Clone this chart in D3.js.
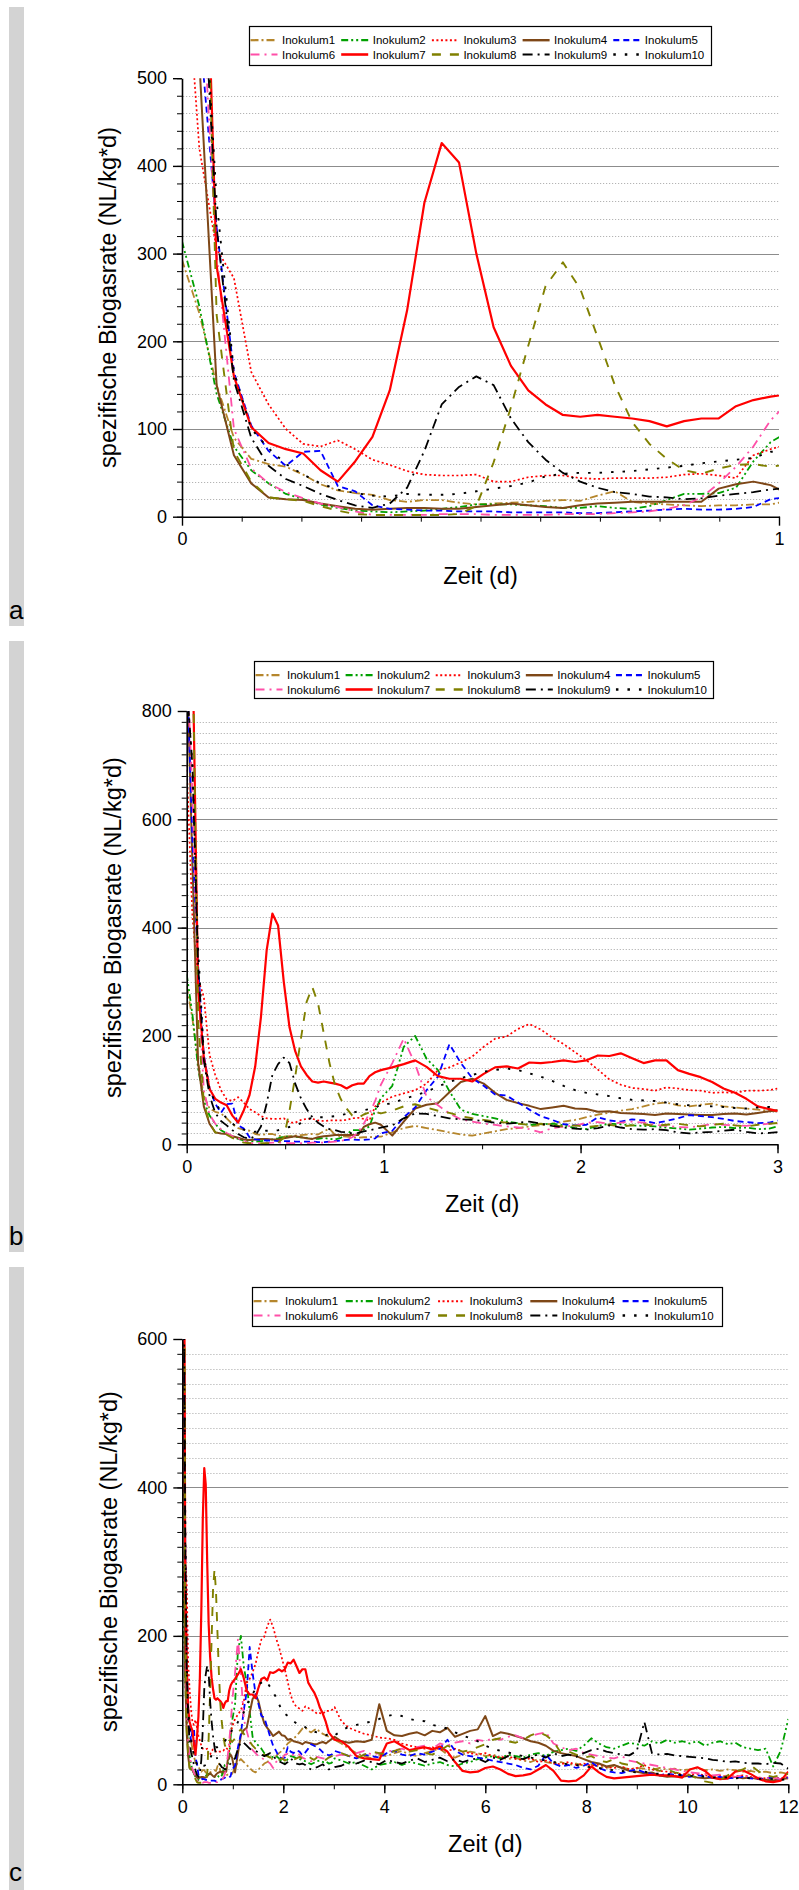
<!DOCTYPE html>
<html><head><meta charset="utf-8">
<script src="https://cdn.jsdelivr.net/npm/d3@7"></script>
<style>
body{margin:0;background:#fff}
svg text{font-family:"Liberation Sans",Arial,sans-serif;fill:#000}
</style></head>
<body><svg id="chart" width="799" height="1890"></svg>
<script>
// ---------------- DATA ----------------
const timeA = [0,0.029,0.058,0.087,0.116,0.145,0.174,0.203,0.232,0.261,0.29,0.319,0.348,0.377,0.406,0.435,0.464,0.493,0.522,0.551,0.58,0.609,0.638,0.667,0.696,0.725,0.754,0.783,0.812,0.841,0.87,0.899,0.928,0.957,0.986];
const timeB = [1.044,1.102,1.16,1.218,1.276,1.334,1.392,1.45,1.508,1.566,1.624,1.682,1.74,1.798,1.856,1.914,1.972,2.03,2.088,2.146,2.204,2.262,2.32,2.378,2.436,2.494,2.552,2.61,2.668,2.726,2.784,2.842,2.9,2.958,3.016];
const timeC = [3.15,3.3,3.45,3.6,3.75,3.9,4.05,4.2,4.35,4.5,4.65,4.8,4.95,5.1,5.25,5.4,5.55,5.7,5.85,6.0,6.15,6.3,6.45,6.6,6.75,6.9,7.05,7.2,7.35,7.5,7.65,7.8,7.95,8.1,8.25,8.4,8.55,8.7,8.85,9.0,9.15,9.3,9.45,9.6,9.75,9.9,10.05,10.2,10.35,10.5,10.65,10.8,10.95,11.1,11.25,11.4,11.55,11.7,11.85,12.0];
const timeDays = timeA.concat(timeB, timeC);

const seriesNames = ["Inokulum1","Inokulum2","Inokulum3","Inokulum4","Inokulum5","Inokulum6","Inokulum7","Inokulum8","Inokulum9","Inokulum10"];

const inokulum1 = [293,232,150,90,66,60,57,48,37,30,27,25,19,17,19,19,16,14,15,16,17,18,19,18,24,29,17,15,14,13,12,13,13,14,14,
 22,30,34,30,26,22,18,16,20,24,28,30,33,35,38,42,45,50,55,58,62,65,70,75,77,72,70,73,75,70,68,66,64,62,60,
 55,48,42,38,35,40,38,42,45,40,38,42,45,48,40,36,40,44,42,38,40,36,34,36,32,30,34,30,28,30,26,28,25,27,24,22,25,23,20,22,21,19,22,20,21,19,20,22,19,20,18,20,19,17,18,16,17,15,16,14];
const inokulum2 = [314,240,140,80,53,38,26,20,14,10,7,6,5,6,7,9,11,14,14,14,13,12,10,10,12,10,9,12,19,26,26,27,33,63,85,
 108,180,200,158,137,98,64,56,52,48,42,39,36,37,38,35,30,28,34,38,37,35,34,33,31,29,27,29,31,32,30,31,28,29,35,
 32,28,30,25,20,26,28,30,26,30,28,25,28,30,26,24,28,30,34,36,38,35,40,38,36,40,42,38,44,46,48,45,52,62,55,50,48,52,56,54,52,58,55,60,56,58,55,58,52,56,58,54,56,50,48,46,48,24,45,88];
const inokulum3 = [700,420,305,272,165,128,100,83,80,87,77,65,59,52,48,47,47,48,40,40,45,47,47,44,43,44,44,44,45,48,49,47,44,70,77,
 88,94,100,112,137,142,151,162,180,195,199,213,222,212,197,185,170,155,138,120,110,104,102,99,105,103,100,99,95,96,95,99,99,100,104,
 85,76,72,68,66,63,62,60,55,52,50,48,50,47,45,48,44,42,40,42,38,36,38,34,33,35,30,32,28,27,30,26,28,25,27,23,22,24,20,22,26,20,18,17,15,14,13,14,12,11,12,10,11,12,10,9,8,9,8,10];
const inokulum4 = [900,520,150,70,38,22,20,19,15,12,9,8,9,10,10,9,9,11,13,15,13,11,10,13,15,16,17,17,17,17,17,32,37,40,36,
 16,42,66,73,76,96,115,121,112,95,82,76,71,65,68,71,66,65,60,61,58,57,56,54,57,56,55,54,54,56,57,55,58,61,64,
 58,56,58,57,60,108,72,66,65,68,70,66,72,70,76,64,68,72,74,92,65,70,68,65,62,58,56,52,45,42,40,38,34,30,28,24,26,22,18,17,15,16,12,10,11,10,12,9,8,9,7,8,10,8,9,7,6,5,7,8];
const inokulum5 = [900,560,330,165,104,75,58,74,75,35,29,13,9,8,7,7,6,6,6,5,5,5,5,4,4,5,6,7,8,9,8,8,9,11,20,
 25,50,68,100,125,185,150,122,108,92,90,77,64,52,45,37,35,36,50,44,42,46,44,39,43,48,54,52,50,47,43,41,39,40,45,
 42,38,35,40,38,36,42,45,40,38,42,40,44,48,60,45,40,38,36,34,32,30,28,26,22,20,25,40,28,24,26,22,25,30,22,18,16,15,18,20,16,14,12,14,13,12,10,12,11,9,10,8,9,10,8,7,8,9,7,9];
const inokulum6 = [900,650,300,100,55,38,28,21,15,11,6,2,2,2,2,3,3,3,2,2,2,2,3,3,3,4,5,6,9,13,22,38,57,80,110,
 150,195,148,88,72,57,46,42,38,36,33,31,28,22,30,33,34,40,41,38,40,42,40,36,34,32,31,34,37,36,35,34,36,38,38,
 40,38,42,45,40,42,44,46,48,45,50,52,48,55,52,56,58,55,60,58,62,60,64,66,62,65,68,70,55,50,46,48,42,40,38,36,35,38,32,30,28,26,24,22,20,18,16,15,14,12,13,11,10,12,10,9,8,9,7,8];
const inokulum7 = [1000,937,286,160,102,84,77,72,53,40,63,91,144,235,358,426,404,300,216,172,144,128,116,114,116,114,112,109,103,109,112,112,126,133,137,
 142,148,155,143,126,121,121,116,130,142,144,140,151,150,152,155,152,155,164,163,168,159,150,155,155,137,130,124,115,103,95,84,70,65,60,
 58,50,38,35,34,33,55,58,52,46,48,50,47,51,44,30,18,16,17,22,24,20,14,11,12,14,20,26,18,5,4,5,12,24,16,10,8,9,10,11,12,13,12,12,11,9,20,23,18,9,7,8,17,19,14,8,4,3,5,17];
const inokulum8 = [950,950,230,75,40,22,20,18,12,7,3,2,2,2,2,2,3,12,62,125,195,263,290,260,205,150,108,83,66,53,49,55,59,60,57,
 62,70,74,68,62,58,52,48,45,42,40,38,36,38,35,33,35,32,34,36,33,35,37,34,36,38,35,33,36,38,35,33,36,38,40,
 42,38,35,40,44,42,40,45,48,44,46,42,40,45,52,48,44,46,50,54,60,62,58,56,60,66,70,66,58,42,44,40,36,38,32,30,34,28,26,30,24,22,18,20,16,14,12,8,4,2,6,12,17,20,26,18,12,10,12,14];
const inokulum9 = [850,700,330,155,90,58,43,35,26,19,13,10,15,33,75,128,148,160,150,112,85,65,50,40,33,28,26,23,22,20,21,24,26,28,31,
 35,48,57,56,52,48,46,45,43,40,38,40,42,38,34,31,29,27,30,35,31,28,27,28,26,22,20,22,23,25,27,23,20,21,23,
 25,30,28,32,30,27,33,30,28,32,35,30,33,36,31,34,30,33,35,30,36,33,38,36,34,38,40,36,42,38,40,37,42,46,48,44,42,40,39,45,84,42,40,41,39,38,37,36,35,33,32,30,31,29,28,28,27,29,28,21];
const inokulum10 = [850,700,360,165,100,78,60,48,38,31,27,24,23,26,25,25,26,29,32,35,39,46,49,50,50,51,52,54,56,58,61,63,65,67,74,
 75,84,90,97,107,115,122,128,134,137,140,137,131,125,117,108,100,95,92,89,85,82,81,80,77,74,72,71,70,69,67,66,68,69,66,
 72,78,80,82,85,88,92,94,92,88,86,85,80,78,75,70,66,62,58,52,48,45,43,40,38,36,34,32,30,28,27,26,24,23,22,20,19,18,17,16,17,15,14,13,14,12,11,12,10,9,10,9,8,9,8,7,8,7,6,7];

const seriesValues = [inokulum1,inokulum2,inokulum3,inokulum4,inokulum5,inokulum6,inokulum7,inokulum8,inokulum9,inokulum10];

// tick values per panel
const xTicksA = [0,1], yTicksA = [0,100,200,300,400,500];
const xTicksB = [0,1,2,3], yTicksB = [0,200,400,600,800];
const xTicksC = [0,2,4,6,8,10,12], yTicksC = [0,200,400,600];

// ---------------- STYLE ----------------
const colors = ["#B5862C","#00A000","#FF0000","#7E4717","#0000FF","#FF4FA8","#FF0000","#808000","#000000","#000000"];
const dashes = ["8,3,2,3","7,3,2,3,2,3","2,2.5",null,"6,4","9,5,2,5",null,"9,9","10,5,2,5","2.5,9"];
const widths = [1.8,1.8,1.7,2,1.8,1.8,2.2,1.9,1.8,1.9];

const panels = [
 {letter:"a", xMax:1, yMax:500, xTicks:xTicksA, xMinorStep:0.1, yTicks:yTicksA, left:182, right:779, top:78.2, bottom:516.7,
  legX:249, legY:26, legW:462, legH:39, barTop:7, barBottom:626, letterY:619},
 {letter:"b", xMax:3, yMax:800, xTicks:xTicksB, xMinorStep:0.5, yTicks:yTicksB, left:186.7, right:777.5, top:711, bottom:1144.3,
  legX:254, legY:661, legW:459, legH:37, barTop:641, barBottom:1252, letterY:1245},
 {letter:"c", xMax:12, yMax:600, xTicks:xTicksC, xMinorStep:1, yTicks:yTicksC, left:182.3, right:788.3, top:1339, bottom:1784.3,
  legX:252, legY:1287, legW:470, legH:39, barTop:1267, barBottom:1890, letterY:1881}
];

const svg = d3.select("#chart");
const defs = svg.append("defs");

panels.forEach((p, pi) => {
  const g = svg.append("g");
  // gray side bar and letter
  g.append("rect").attr("x",9).attr("y",p.barTop).attr("width",15).attr("height",p.barBottom-p.barTop).attr("fill","#d3d3d3");
  g.append("text").attr("x",9).attr("y",p.letterY).attr("font-size",26).text(p.letter);

  const x = d3.scaleLinear().domain([0,p.xMax]).range([p.left,p.right]);
  const y = d3.scaleLinear().domain([0,p.yMax]).range([p.bottom,p.top]);

  // gridlines
  const minorY = d3.range(20, p.yMax, 20).filter(v => !p.yTicks.includes(v));
  g.append("g").selectAll("line").data(minorY).join("line")
    .attr("x1",p.left+1).attr("x2",p.right)
    .attr("y1",d=>Math.round(y(d))+0.5).attr("y2",d=>Math.round(y(d))+0.5)
    .attr("stroke","#b4b4b4").attr("stroke-width",1).attr("stroke-dasharray","1.2,1.8");
  g.append("g").selectAll("line").data(p.yTicks.filter(v=>v>0 && v<p.yMax)).join("line")
    .attr("x1",p.left).attr("x2",p.right)
    .attr("y1",d=>Math.round(y(d))+0.5).attr("y2",d=>Math.round(y(d))+0.5)
    .attr("stroke","#8c8c8c").attr("stroke-width",1);

  // clip
  const cid = "clip"+pi;
  defs.append("clipPath").attr("id",cid).append("rect")
    .attr("x",p.left).attr("y",p.top).attr("width",p.right-p.left).attr("height",p.bottom-p.top+1);

  const line = d3.line().x((d,i)=>x(timeDays[i])).y(d=>y(d));
  const lg = g.append("g").attr("clip-path",`url(#${cid})`);
  seriesValues.forEach((vals, si) => {
    lg.append("path").datum(vals).attr("d",line)
      .attr("fill","none").attr("stroke",colors[si]).attr("stroke-width",widths[si])
      .attr("stroke-dasharray",dashes[si]).attr("stroke-linejoin","round");
  });

  // axes
  const yMinorTicks = d3.range(0, p.yMax+1, 20);
  const xMinorTicks = d3.range(0, p.xMax+1e-9, p.xMinorStep);
  g.append("g").attr("transform",`translate(${p.left},0)`)
    .call(d3.axisLeft(y).tickValues(yMinorTicks).tickSize(5).tickSizeOuter(0).tickFormat(""))
    .call(s=>s.select(".domain").remove());
  g.append("g").attr("transform",`translate(0,${p.bottom})`)
    .call(d3.axisBottom(x).tickValues(xMinorTicks).tickSize(5).tickSizeOuter(0).tickFormat(""))
    .call(s=>s.select(".domain").remove());
  const ya = g.append("g").attr("transform",`translate(${p.left},0)`)
    .call(d3.axisLeft(y).tickValues(p.yTicks).tickSize(9).tickSizeOuter(0).tickPadding(6).tickFormat(d3.format("d")));
  const xa = g.append("g").attr("transform",`translate(0,${p.bottom})`)
    .call(d3.axisBottom(x).tickValues(p.xTicks).tickSize(9).tickSizeOuter(0).tickPadding(7).tickFormat(d3.format("d")));
  [ya,xa].forEach(a=>{
    a.selectAll("text").attr("font-size",18).attr("font-family",'"Liberation Sans",Arial,sans-serif');
    a.select(".domain").attr("stroke-width",1.6);
    a.selectAll(".tick line").attr("stroke-width",1.4);
  });
  g.selectAll(".tick line").attr("stroke","#000");

  // axis titles
  g.append("text").attr("x",(p.left+p.right)/2).attr("y",p.bottom+59).attr("dy","0.35em")
    .attr("text-anchor","middle").attr("font-size",23.5).text("Zeit (d)");
  g.append("text").attr("transform",`translate(${p.left-74},${(p.top+p.bottom)/2}) rotate(-90)`)
    .attr("dy","0.35em").attr("text-anchor","middle").attr("font-size",23.5)
    .text("spezifische Biogasrate (NL/kg*d)");

  // legend
  const leg = g.append("g");
  leg.append("rect").attr("x",p.legX+0.5).attr("y",p.legY+0.5).attr("width",p.legW).attr("height",p.legH)
    .attr("fill","#fff").attr("stroke","#000").attr("stroke-width",1.2);
  const colW = 90.7*(p.legW/462);
  seriesNames.forEach((name, si) => {
    const row = Math.floor(si/5), col = si%5;
    const lx = p.legX + 1.5 + col*colW;
    const ly = p.legY + 14.2 + row*14.3;
    leg.append("line").attr("x1",lx).attr("x2",lx+27).attr("y1",ly).attr("y2",ly)
      .attr("stroke",colors[si]).attr("stroke-width",widths[si]+0.4).attr("stroke-dasharray",dashes[si]);
    leg.append("text").attr("x",lx+31.5).attr("y",ly).attr("dy","0.35em").attr("font-size",11.5).text(name);
  });
});
</script>
</body></html>
